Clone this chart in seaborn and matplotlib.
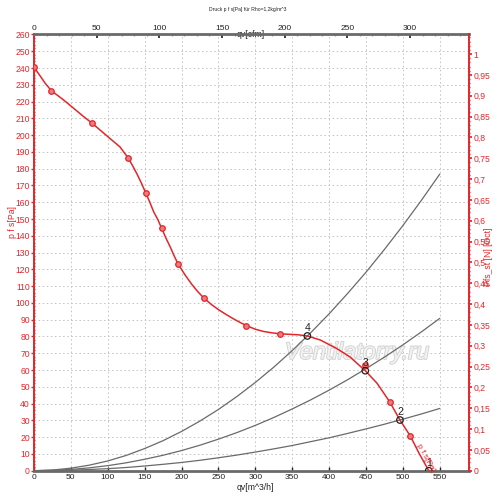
import matplotlib
matplotlib.use('Agg')
import matplotlib.pyplot as plt
import matplotlib.patheffects as pe
import seaborn as sns
from matplotlib.ticker import MultipleLocator, FixedLocator, FuncFormatter

sns.set_theme(style='white')
plt.rcParams['font.family'] = ['Liberation Sans', 'DejaVu Sans']

RED = '#e3262b'
GREY = '#6a6a6a'
INK = '#222222'

# fan curve p_fs [Pa] vs q_v [m^3/h]
curve_q = [0, 8, 15, 23.5, 40, 53, 66, 79, 91, 103, 116.5, 127.5, 134, 140,
           146, 151.5, 157, 162, 168, 173, 179, 185, 190, 195.5, 205, 214, 222,
           230, 240, 250, 260, 270, 280, 288, 300, 311, 322, 333, 345, 358, 370.5,
           388, 410, 428, 449, 465, 482, 496, 510, 522, 535]
curve_p = [240.5, 235.5, 231, 226.5, 221, 216.3, 211.5, 207, 202.5, 198, 193,
           186.5, 181.5, 176.5, 171, 165.5, 160, 154.5, 149.5, 144.5, 138.5, 133,
           128, 123, 116.5, 111, 106.7, 103, 99.2, 96, 93.2, 90.6, 88.2, 86.5,
           84.3, 83, 82.2, 81.6, 81.3, 81, 80.3, 77.9, 72.9, 67.9, 59.6, 52.1,
           41.1, 30.2, 20.7, 10.3, 0]

# measured points (markers)
meas_q = [0, 23.5, 79, 127.5, 151.5, 173, 195.5, 230, 288, 333, 449, 482, 510]
meas_p = [240.5, 226.5, 207, 186.5, 165.5, 144.5, 123, 103, 86.5, 81.6, 63, 41.1, 20.7]

# system curves, read every 25 m^3/h
sys_q = [0, 25, 50, 75, 100, 125, 150, 175, 200, 225, 250, 275, 300, 325, 350,
         375, 400, 425, 450, 475, 500, 525, 550]
sys4_p = [0, 0.4, 1.5, 3.3, 5.8, 9.1, 13.2, 17.9, 23.4, 29.6, 36.5, 44.2, 52.6,
          61.7, 71.6, 82.2, 93.5, 105.6, 118.3, 131.9, 146.1, 161.1, 176.8]
sys3_p = [0, 0.2, 0.75, 1.7, 3, 4.7, 6.8, 9.2, 12, 15.2, 18.8, 22.7, 27, 31.7,
          36.8, 42.2, 48, 54.2, 60.8, 67.7, 75, 82.7, 90.8]
sys2_p = [0, 0.1, 0.3, 0.7, 1.2, 1.9, 2.8, 3.8, 4.9, 6.2, 7.7, 9.3, 11.1, 13, 15,
          17.3, 19.6, 22.2, 24.9, 27.7, 30.7, 33.8, 37.1]

# operating points
op_labels = ['1', '2', '3', '4']
op_q = [535, 496, 449, 370.5]
op_p = [0, 30.2, 59.6, 80.3]

x_ticks = list(range(0, 551, 50))
y_ticks = list(range(0, 261, 10))
cfm_ticks = list(range(0, 301, 50))
right_ticks = [round(0.05 * i, 2) for i in range(21)]

fig = plt.figure(figsize=(5, 5.04), dpi=100)
ax = fig.add_axes([0.068, 0.0661, 0.8706, 0.8655])

for xv in x_ticks:
    ax.axvline(xv, color='#c4c4c4', lw=0.7, ls=(0, (1.6, 2.6)), zorder=0)
for yv in y_ticks:
    ax.axhline(yv, color='#c4c4c4', lw=0.7, ls=(0, (1.6, 2.6)), zorder=0)

ax.text(438, 70.5, 'Ventilatorry.ru', color='#f2f2f2', fontsize=17, style='italic',
        ha='center', va='center', zorder=1,
        path_effects=[pe.withStroke(linewidth=1.3, foreground='#d2d2d2')])

for p in [sys4_p, sys3_p, sys2_p]:
    sns.lineplot(x=sys_q, y=p, ax=ax, color=GREY, lw=0.9, sort=False, zorder=2)

sns.lineplot(x=curve_q, y=curve_p, ax=ax, color=RED, lw=1.1, sort=False, zorder=3)
sns.scatterplot(x=meas_q, y=meas_p, ax=ax, color='#f07a7a', edgecolor=RED,
                s=16, linewidth=0.9, zorder=4)

sns.scatterplot(x=op_q, y=op_p, ax=ax, facecolor='none', edgecolor=INK,
                s=22, linewidth=0.9, zorder=5)
for lab, q, p in zip(op_labels, op_q, op_p):
    ax.text(q, p + 4.8, lab, fontsize=7.5, ha='center', va='center', color=INK, zorder=6)

ax.text(531, 7.6, 'p f s[Pa]', color=RED, fontsize=6, rotation=-61,
        ha='center', va='center', zorder=6)

ax.set_xlim(0, 590)
ax.set_ylim(0, 260)
ax.xaxis.set_major_locator(FixedLocator(x_ticks))
ax.yaxis.set_major_locator(FixedLocator(y_ticks))
ax.yaxis.set_minor_locator(MultipleLocator(2))
ax.tick_params(axis='x', which='major', direction='in', length=3, width=1,
               labelsize=6, colors=INK, pad=2.5)
ax.tick_params(axis='y', which='major', direction='out', length=2.5, width=1,
               labelsize=6.2, colors=RED, pad=0.5)
ax.tick_params(axis='y', which='minor', direction='inout', length=2, color=RED)
ax.tick_params(bottom=True, left=True, which='both')
ax.set_xlabel('qv[m^3/h]', fontsize=6.2, color=INK, va='center')
ax.xaxis.set_label_coords(0.508, -0.039)
ax.set_ylabel('p f s[Pa]', fontsize=6.2, color=RED, va='center')
ax.yaxis.set_label_coords(-0.05, 0.57)

for side in ['bottom', 'top']:
    ax.spines[side].set_color(GREY)
    ax.spines[side].set_linewidth(2)
ax.spines['left'].set_color(RED)
ax.spines['left'].set_linewidth(1.4)
ax.spines['right'].set_visible(False)

top = ax.secondary_xaxis('top', functions=(lambda q: q / 1.699, lambda c: c * 1.699))
top.xaxis.set_major_locator(FixedLocator(cfm_ticks))
top.xaxis.set_minor_locator(MultipleLocator(10))
top.tick_params(which='major', direction='in', length=3, labelsize=6,
                colors=INK, pad=1.5)
top.tick_params(which='minor', direction='in', length=1.5, color='#999999')
top.spines['top'].set_visible(False)
top.set_xlabel('qv[cfm]', fontsize=6.2, color=INK, va='center')
top.xaxis.set_label_coords(0.4985, 1.031)

right = ax.twinx()
right.set_ylim(0, 1.047)
right.yaxis.set_major_locator(FixedLocator(right_ticks))
right.yaxis.set_minor_locator(MultipleLocator(0.01))
right.yaxis.set_major_formatter(FuncFormatter(lambda v, _: f'{v:g}'.replace('.', ',')))
right.tick_params(which='major', direction='out', length=2.5, labelsize=6.2,
                  colors=RED, pad=0.5)
right.tick_params(which='minor', direction='inout', length=2, color=RED)
right.tick_params(right=True, which='both')
for side in ['bottom', 'top', 'left']:
    right.spines[side].set_visible(False)
right.spines['right'].set_color(RED)
right.spines['right'].set_linewidth(1.4)
right.set_ylabel('Pfs_st [N] [Oct]', fontsize=6.2, color=RED, rotation=90, va='center')
right.yaxis.set_label_coords(1.043, 0.49)

fig.text(0.495, 0.982, 'Druck p f s[Pa] für Rho=1,2kg/m^3', fontsize=3.6,
         ha='center', va='center', color=INK)

fig.savefig('out.png', dpi=100)
